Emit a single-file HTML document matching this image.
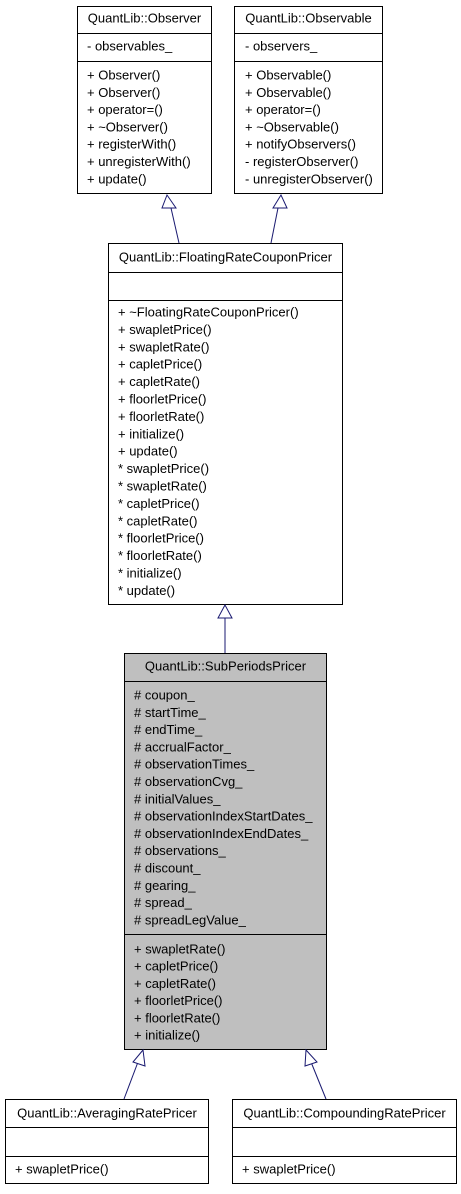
<!DOCTYPE html>
<html><head><meta charset="utf-8"><style>
html,body{margin:0;padding:0;background:#fff;}
svg text{font-family:"Liberation Sans",sans-serif;font-size:13px;fill:#000;}
</style></head><body>
<svg width="461" height="1189" viewBox="0 0 461 1189" xmlns="http://www.w3.org/2000/svg">
<g stroke="#000" stroke-width="1" fill="#fff">
<rect x="77.5" y="6.5" width="134" height="187"/>
<line x1="77" y1="33.5" x2="212" y2="33.5"/><line x1="77" y1="61.5" x2="212" y2="61.5"/>
<rect x="234.5" y="6.5" width="148" height="187"/>
<line x1="234" y1="33.5" x2="383" y2="33.5"/><line x1="234" y1="61.5" x2="383" y2="61.5"/>
<rect x="108.5" y="243.5" width="234" height="361"/>
<line x1="108" y1="272.5" x2="343" y2="272.5"/><line x1="108" y1="300.5" x2="343" y2="300.5"/>
<rect x="124.5" y="653.5" width="202" height="396" fill="#bfbfbf"/>
<line x1="124" y1="681.5" x2="327" y2="681.5"/><line x1="124" y1="934.5" x2="327" y2="934.5"/>
<rect x="5.5" y="1099.5" width="203" height="84"/>
<line x1="5" y1="1127.5" x2="209" y2="1127.5"/><line x1="5" y1="1156.5" x2="209" y2="1156.5"/>
<rect x="232.5" y="1099.5" width="224" height="84"/>
<line x1="232" y1="1127.5" x2="457" y2="1127.5"/><line x1="232" y1="1156.5" x2="457" y2="1156.5"/>
</g>
<g stroke="#191970" stroke-width="1" fill="#fff">
<line x1="179" y1="243" x2="171" y2="208"/><polygon points="167,195 162,208 176,208"/>
<line x1="271" y1="243" x2="278" y2="208"/><polygon points="281,195 273,208 287,208"/>
<line x1="225" y1="653" x2="225" y2="618"/><polygon points="225,605 218,618 232,618"/>
<line x1="124" y1="1099" x2="138" y2="1062"/><polygon points="143,1050 133,1062 145,1066"/>
<line x1="326" y1="1099" x2="311" y2="1062"/><polygon points="306,1050 305,1066 317,1062"/>
</g>
<g>
<text x="144.5" y="22.5" text-anchor="middle">QuantLib::Observer</text>
<text x="87" y="50.5">- observables_</text>
<text x="87" y="79.5">+ Observer()</text>
<text x="87" y="96.8">+ Observer()</text>
<text x="87" y="114.1">+ operator=()</text>
<text x="87" y="131.4">+ ~Observer()</text>
<text x="87" y="148.7">+ registerWith()</text>
<text x="87" y="166">+ unregisterWith()</text>
<text x="87" y="183.3">+ update()</text>

<text x="308.5" y="22.5" text-anchor="middle">QuantLib::Observable</text>
<text x="245" y="50.5">- observers_</text>
<text x="245" y="79.5">+ Observable()</text>
<text x="245" y="96.8">+ Observable()</text>
<text x="245" y="114.1">+ operator=()</text>
<text x="245" y="131.4">+ ~Observable()</text>
<text x="245" y="148.7">+ notifyObservers()</text>
<text x="245" y="166">- registerObserver()</text>
<text x="245" y="183.3">- unregisterObserver()</text>

<text x="225.5" y="261.5" text-anchor="middle">QuantLib::FloatingRateCouponPricer</text>
<text x="118" y="316.5">+ ~FloatingRateCouponPricer()</text>
<text x="118" y="333.9">+ swapletPrice()</text>
<text x="118" y="351.3">+ swapletRate()</text>
<text x="118" y="368.7">+ capletPrice()</text>
<text x="118" y="386.1">+ capletRate()</text>
<text x="118" y="403.5">+ floorletPrice()</text>
<text x="118" y="420.9">+ floorletRate()</text>
<text x="118" y="438.3">+ initialize()</text>
<text x="118" y="455.7">+ update()</text>
<text x="118" y="473.1">* swapletPrice()</text>
<text x="118" y="490.5">* swapletRate()</text>
<text x="118" y="507.9">* capletPrice()</text>
<text x="118" y="525.3">* capletRate()</text>
<text x="118" y="542.7">* floorletPrice()</text>
<text x="118" y="560.1">* floorletRate()</text>
<text x="118" y="577.5">* initialize()</text>
<text x="118" y="594.9">* update()</text>

<text x="225.5" y="670.5" text-anchor="middle">QuantLib::SubPeriodsPricer</text>
<text x="134" y="699.5"># coupon_</text>
<text x="134" y="716.8"># startTime_</text>
<text x="134" y="734.1"># endTime_</text>
<text x="134" y="751.4"># accrualFactor_</text>
<text x="134" y="768.7"># observationTimes_</text>
<text x="134" y="786"># observationCvg_</text>
<text x="134" y="803.3"># initialValues_</text>
<text x="134" y="820.6"># observationIndexStartDates_</text>
<text x="134" y="837.9"># observationIndexEndDates_</text>
<text x="134" y="855.2"># observations_</text>
<text x="134" y="872.5"># discount_</text>
<text x="134" y="889.8"># gearing_</text>
<text x="134" y="907.1"># spread_</text>
<text x="134" y="924.4"># spreadLegValue_</text>
<text x="134" y="953.5">+ swapletRate()</text>
<text x="134" y="970.7">+ capletPrice()</text>
<text x="134" y="987.9">+ capletRate()</text>
<text x="134" y="1005.1">+ floorletPrice()</text>
<text x="134" y="1022.3">+ floorletRate()</text>
<text x="134" y="1039.5">+ initialize()</text>

<text x="107" y="1117.5" text-anchor="middle">QuantLib::AveragingRatePricer</text>
<text x="15" y="1173.5">+ swapletPrice()</text>
<text x="344.5" y="1117.5" text-anchor="middle">QuantLib::CompoundingRatePricer</text>
<text x="242" y="1173.5">+ swapletPrice()</text>
</g>
</svg>
</body></html>
